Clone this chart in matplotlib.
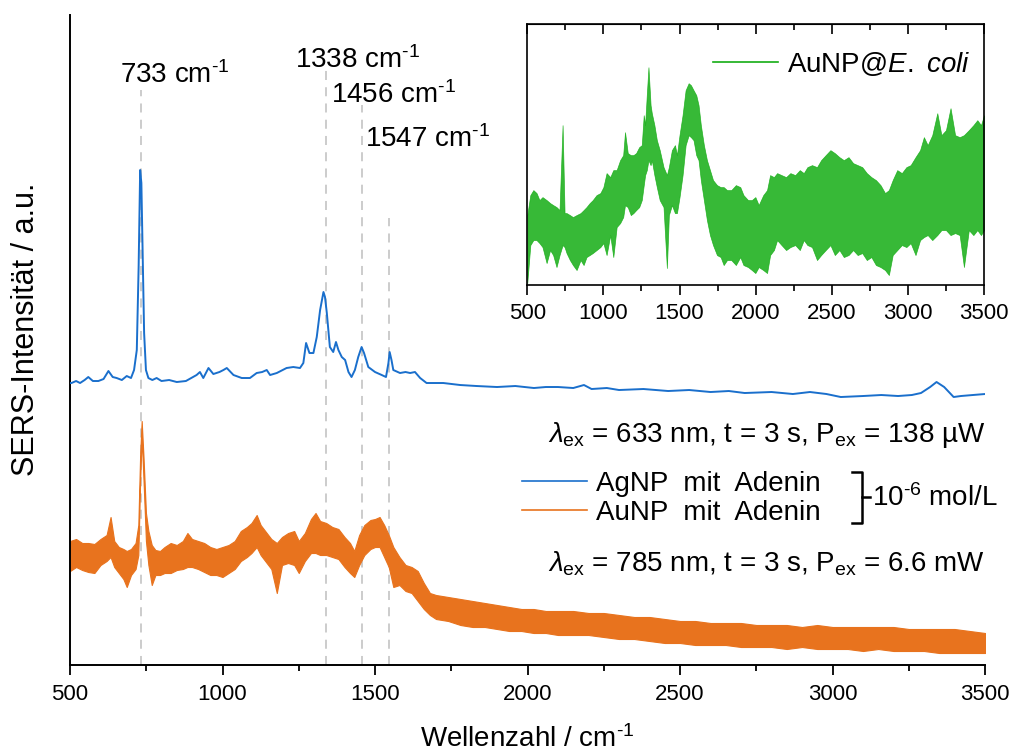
import matplotlib
matplotlib.use("Agg")
import matplotlib.pyplot as plt
import matplotlib.ticker as ticker
from matplotlib.lines import Line2D
import numpy as np

plt.rcParams["font.family"] = "Liberation Sans"
plt.rcParams["mathtext.fontset"] = "custom"
plt.rcParams["mathtext.rm"] = "Liberation Sans"
plt.rcParams["mathtext.it"] = "Liberation Sans:italic"
plt.rcParams["mathtext.bf"] = "Liberation Sans:bold"

BLUE = "#1a6fcc"
ORANGE = "#e8731e"
GREEN = "#14ad14"

# AgNP + adenine (633 nm), intensity in a.u. (offset stacked)
ag_wn = [500, 505, 520, 533, 548, 560, 575, 593, 610, 626, 640, 653, 670, 686, 700,
         710, 719, 725, 730, 734, 738, 743, 749, 757, 770, 784, 800, 825, 850, 880,
         915, 926, 937, 954, 970, 990, 1003, 1014, 1036, 1063, 1090, 1112, 1130, 1145,
         1156, 1178, 1210, 1232, 1254, 1265, 1274, 1285, 1298, 1309, 1320, 1331, 1336,
         1342, 1352, 1363, 1372, 1380, 1391, 1402, 1413, 1423, 1434, 1445, 1456, 1464,
         1478, 1500, 1522, 1536, 1544, 1548, 1554, 1560, 1582, 1600, 1615, 1631, 1648,
         1669, 1700, 1724, 1779, 1833, 1900, 1960, 2021, 2060, 2100, 2150, 2185, 2210,
         2260, 2300, 2380, 2461, 2530, 2600, 2660, 2712, 2800, 2870, 2926, 2980, 3027,
         3100, 3160, 3215, 3260, 3290, 3320, 3341, 3366, 3397, 3421, 3460, 3500]
ag_int = [282, 282, 284, 282, 285, 288, 284, 284, 286, 294, 288, 287, 285, 289, 287,
          295, 315, 398, 495, 482, 415, 332, 295, 287, 285, 287, 284, 285, 283, 284,
          290, 293, 287, 297, 291, 293, 295, 297, 290, 287, 287, 292, 293, 295,
          290, 292, 297, 298, 297, 302, 322, 312, 312, 328, 355, 373, 368,
          352, 318, 313, 323, 315, 308, 305, 293, 288, 295, 308, 318, 312,
          298, 293, 290, 288, 302, 313, 305, 295, 292, 293, 292, 293, 287,
          282, 282, 282, 280, 279, 278, 279, 277, 278, 278, 277, 280, 276,
          277, 275, 276, 274, 275, 273, 274, 272, 273, 271, 273, 271, 268,
          269, 270, 269, 270, 272, 278, 283, 278, 268, 269, 270, 271]

# AuNP + adenine (785 nm): noisy trace, lower / upper envelope
au_wn = [500, 520, 540, 560, 580, 600, 620, 633, 645, 660, 675, 686, 700, 715, 724,
         730, 735, 741, 749, 757, 768, 780, 795, 810, 830, 850, 870, 885, 900, 920,
         940, 960, 980, 1000, 1020, 1040, 1060, 1080, 1095, 1112, 1125, 1140, 1160,
         1178, 1195, 1215, 1235, 1250, 1270, 1290, 1305, 1320, 1340, 1360, 1380, 1400,
         1418, 1432, 1448, 1465, 1485, 1500, 1515, 1530, 1545, 1560, 1580, 1600, 1620,
         1640, 1660, 1680, 1700, 1740, 1780, 1820, 1860, 1900, 1940, 1980, 2020, 2060,
         2100, 2150, 2200, 2250, 2300, 2350, 2400, 2450, 2500, 2550, 2600, 2650, 2700,
         2750, 2800, 2850, 2900, 2950, 3000, 3050, 3100, 3150, 3200, 3250, 3300, 3350,
         3400, 3450, 3500]
au_lo = [94, 98, 95, 93, 92, 100, 104, 108, 98, 92, 86, 78, 90, 96, 110,
         185, 228, 185, 124, 100, 80, 90, 90, 92, 92, 95, 96, 98, 98, 96,
         93, 90, 90, 88, 92, 96, 104, 108, 112, 118, 110, 104, 96,
         72, 100, 102, 100, 92, 104, 112, 112, 110, 110, 108, 106, 98,
         92, 88, 100, 110, 116, 118, 118, 108, 98, 78, 80, 74, 72,
         64, 56, 50, 46, 44, 40, 38, 38, 36, 34, 34, 32, 32,
         30, 30, 30, 28, 26, 26, 24, 22, 22, 20, 20, 20, 18,
         18, 18, 16, 18, 16, 16, 16, 14, 16, 14, 14, 14, 12,
         12, 12, 12]
au_hi = [124, 126, 122, 122, 121, 126, 130, 148, 124, 118, 116, 114, 116, 122, 140,
         210, 244, 208, 152, 134, 120, 115, 114, 118, 122, 120, 124, 132, 126, 124,
         122, 118, 116, 118, 120, 124, 134, 138, 142, 150, 140, 134, 126,
         122, 128, 132, 134, 124, 132, 146, 152, 144, 142, 138, 136, 128,
         122, 114, 130, 140, 145, 146, 148, 140, 130, 118, 108, 100, 98,
         94, 82, 72, 70, 68, 66, 64, 62, 60, 58, 56, 56, 54,
         54, 54, 52, 52, 50, 48, 48, 46, 44, 44, 42, 42, 42,
         40, 40, 40, 38, 40, 38, 38, 38, 38, 38, 36, 36, 36,
         36, 34, 32]

# inset: AuNP@E. coli, lower / upper envelope
ec_wn = [500, 520, 540, 561, 580, 600, 627, 650, 670, 692, 712, 732, 745, 758, 780,
         800, 824, 850, 870, 889, 910, 930, 955, 980, 1000, 1021, 1045, 1065, 1087,
         1110, 1130, 1142, 1160, 1180, 1197, 1215, 1235, 1252, 1265, 1274, 1285, 1296,
         1310, 1318, 1335, 1351, 1370, 1395, 1417, 1430, 1450, 1470, 1483, 1500, 1520,
         1540, 1560, 1575, 1592, 1610, 1625, 1640, 1660, 1680, 1700, 1720, 1746, 1770,
         1790, 1812, 1840, 1870, 1899, 1920, 1950, 1975, 1998, 2020, 2050, 2075, 2095,
         2120, 2141, 2170, 2200, 2228, 2260, 2290, 2316, 2340, 2370, 2403, 2430, 2460,
         2491, 2520, 2550, 2579, 2610, 2640, 2670, 2700, 2730, 2760, 2790, 2820, 2850,
         2875, 2900, 2930, 2960, 2990, 3018, 3050, 3080, 3105, 3130, 3160, 3193, 3220,
         3250, 3280, 3310, 3340, 3368, 3400, 3430, 3456, 3480, 3500]
ec_lo = [2, 40, 45, 45, 42, 38, 22, 35, 30, 18, 30, 40, 38, 32, 25,
         20, 15, 25, 20, 28, 30, 32, 35, 38, 42, 30, 50, 28, 58,
         62, 68, 80, 78, 70, 72, 75, 78, 85, 100, 110, 115, 125,
         120, 125, 110, 98, 85, 78, 17, 70, 80, 72, 72, 88, 110,
         140, 150, 148, 145, 130, 125, 105, 85, 65, 50, 40, 30, 28,
         20, 25, 25, 20, 28, 20, 18, 15, 12, 18, 15, 12, 30,
         35, 45, 40, 35, 38, 40, 35, 45, 40, 38, 25, 30, 35,
         40, 30, 35, 28, 30, 35, 30, 32, 25, 28, 20, 18, 15,
         10, 30, 35, 40, 38, 42, 30, 45, 48, 50, 45, 50, 55,
         55, 50, 52, 50, 18, 55, 50, 55, 50, 55]
ec_hi = [70, 90, 95, 92, 85, 88, 85, 82, 80, 78, 75, 160, 72, 72, 70,
         68, 70, 72, 75, 78, 82, 85, 90, 92, 98, 112, 108, 115, 115,
         125, 130, 153, 132, 130, 130, 132, 138, 140, 170, 160, 190, 218,
         180, 172, 160, 145, 135, 118, 110, 118, 135, 140, 130, 150, 170,
         195, 202, 200, 195, 190, 180, 160, 140, 125, 115, 105, 100, 98,
         98, 95, 95, 100, 98, 90, 85, 85, 88, 80, 90, 95, 110,
         108, 112, 110, 108, 112, 110, 115, 112, 118, 120, 118, 125, 130,
         135, 132, 128, 125, 128, 122, 120, 118, 112, 108, 105, 100, 92,
         95, 105, 115, 112, 118, 120, 128, 135, 148, 140, 150, 172, 150,
         155, 177, 150, 148, 150, 155, 160, 165, 160, 170]

peaks = [733, 1338, 1456, 1547]
peak_line_top = [575, 595, 560, 447]
peak_label_pos = [(664, 582), (1238, 597), (1356, 562), (1467, 518)]

SUP = r"$^{\text{-1}}$"

fig = plt.figure(figsize=(10.13, 7.55), dpi=100)

#######################################################
# main axes
#######################################################
ax = fig.add_axes([0.0691, 0.1192, 0.9033, 0.8609])
ax.set_xlim(500, 3500)
ax.set_ylim(0, 650)

ax.vlines(peaks, 0, peak_line_top, colors="#c8c8c8", linestyles=(0, (5, 4)),
          linewidth=1.3, zorder=1)
for p, (tx, ty) in zip(peaks, peak_label_pos):
    ax.text(tx, ty, f"{p} cm" + SUP, fontsize=20, ha="left", va="baseline")

ax.plot(ag_wn, ag_int, color=BLUE, linewidth=1.4, zorder=3)
# noisy orange trace drawn as its envelope band
ax.fill_between(au_wn, au_lo, au_hi, color=ORANGE, linewidth=0.8, zorder=2)

for s in ["top", "right"]:
    ax.spines[s].set_visible(False)
for s in ["left", "bottom"]:
    ax.spines[s].set_linewidth(1.4)
ax.set_yticks([])
ax.xaxis.set_major_locator(ticker.MultipleLocator(500))
ax.xaxis.set_minor_locator(ticker.MultipleLocator(250))
ax.tick_params(axis="x", which="major", direction="out", length=7, width=1.3,
               labelsize=16, pad=7)
ax.tick_params(axis="x", which="minor", direction="out", length=4.5, width=1.3)
ax.set_xlabel("Wellenzahl / cm" + SUP, fontsize=20, labelpad=14)
ax.set_ylabel("SERS-Intensität / a.u.", fontsize=22)
ax.yaxis.set_label_coords(-0.032, 0.517)

handles = [Line2D([], [], color=BLUE, linewidth=1.2),
           Line2D([], [], color=ORANGE, linewidth=1.2)]
ax.legend(handles, ["AgNP  mit  Adenin", "AuNP  mit  Adenin"], loc="upper left",
          bbox_to_anchor=(522 / 1013, 1 - 471 / 755), bbox_transform=fig.transFigure,
          frameon=False, fontsize=20, handlelength=2.35, handletextpad=0.3,
          labelspacing=0.1, borderpad=0, borderaxespad=0)

# bracket for the concentration
fig.add_artist(Line2D(np.array([852, 862, 862, 852]) / 1013,
                      1 - np.array([472, 472, 523, 523]) / 755,
                      color="black", linewidth=1.8))
fig.add_artist(Line2D(np.array([862, 870]) / 1013, 1 - np.array([497, 497]) / 755,
                      color="black", linewidth=1.8))
fig.text(872 / 1013, 1 - 506 / 755, r"10$^{\text{-6}}$ mol/L", fontsize=20, va="baseline")

fig.text(985 / 1013, 1 - 442 / 755,
         r"$\lambda_{\mathrm{ex}}$ = 633 nm, t = 3 s, P$_{\mathrm{ex}}$ = 138 µW",
         fontsize=20, ha="right", va="baseline")
fig.text(985 / 1013, 1 - 572 / 755,
         r"$\lambda_{\mathrm{ex}}$ = 785 nm, t = 3 s, P$_{\mathrm{ex}}$ = 6.6 mW",
         fontsize=20, ha="right", va="baseline")

#######################################################
# inset: E. coli
#######################################################
axin = fig.add_axes([0.5205, 0.6225, 0.4509, 0.3453])
axin.set_xlim(500, 3500)
axin.set_ylim(0, 261)
axin.fill_between(ec_wn, ec_lo, ec_hi, color=GREEN, linewidth=0.5, alpha=0.85)
axin.set_yticks([])
axin.xaxis.set_major_locator(ticker.MultipleLocator(500))
axin.xaxis.set_minor_locator(ticker.MultipleLocator(250))
axin.tick_params(axis="x", which="major", direction="out", length=7, width=1.2,
                 labelsize=16, pad=6)
axin.tick_params(axis="x", which="minor", direction="out", length=4.5, width=1.2)
for s in axin.spines.values():
    s.set_linewidth(1.2)
# inward ticks along the top edge
axin_top = axin.secondary_xaxis("top")
axin_top.xaxis.set_major_locator(ticker.MultipleLocator(500))
axin_top.xaxis.set_minor_locator(ticker.MultipleLocator(250))
axin_top.tick_params(which="major", direction="in", length=7, width=1.2, labeltop=False)
axin_top.tick_params(which="minor", direction="in", length=4.5, width=1.2)

axin.legend([Line2D([], [], color=GREEN, linewidth=1.2)], [r"AuNP@$\mathit{E.\ coli}$"],
            loc="upper left", bbox_to_anchor=((713 - 527.3) / 456.7, (285 - 50) / 260.7),
            frameon=False, fontsize=20, handlelength=2.35, handletextpad=0.3,
            borderpad=0, borderaxespad=0)

fig.savefig("out.png", dpi=100)
